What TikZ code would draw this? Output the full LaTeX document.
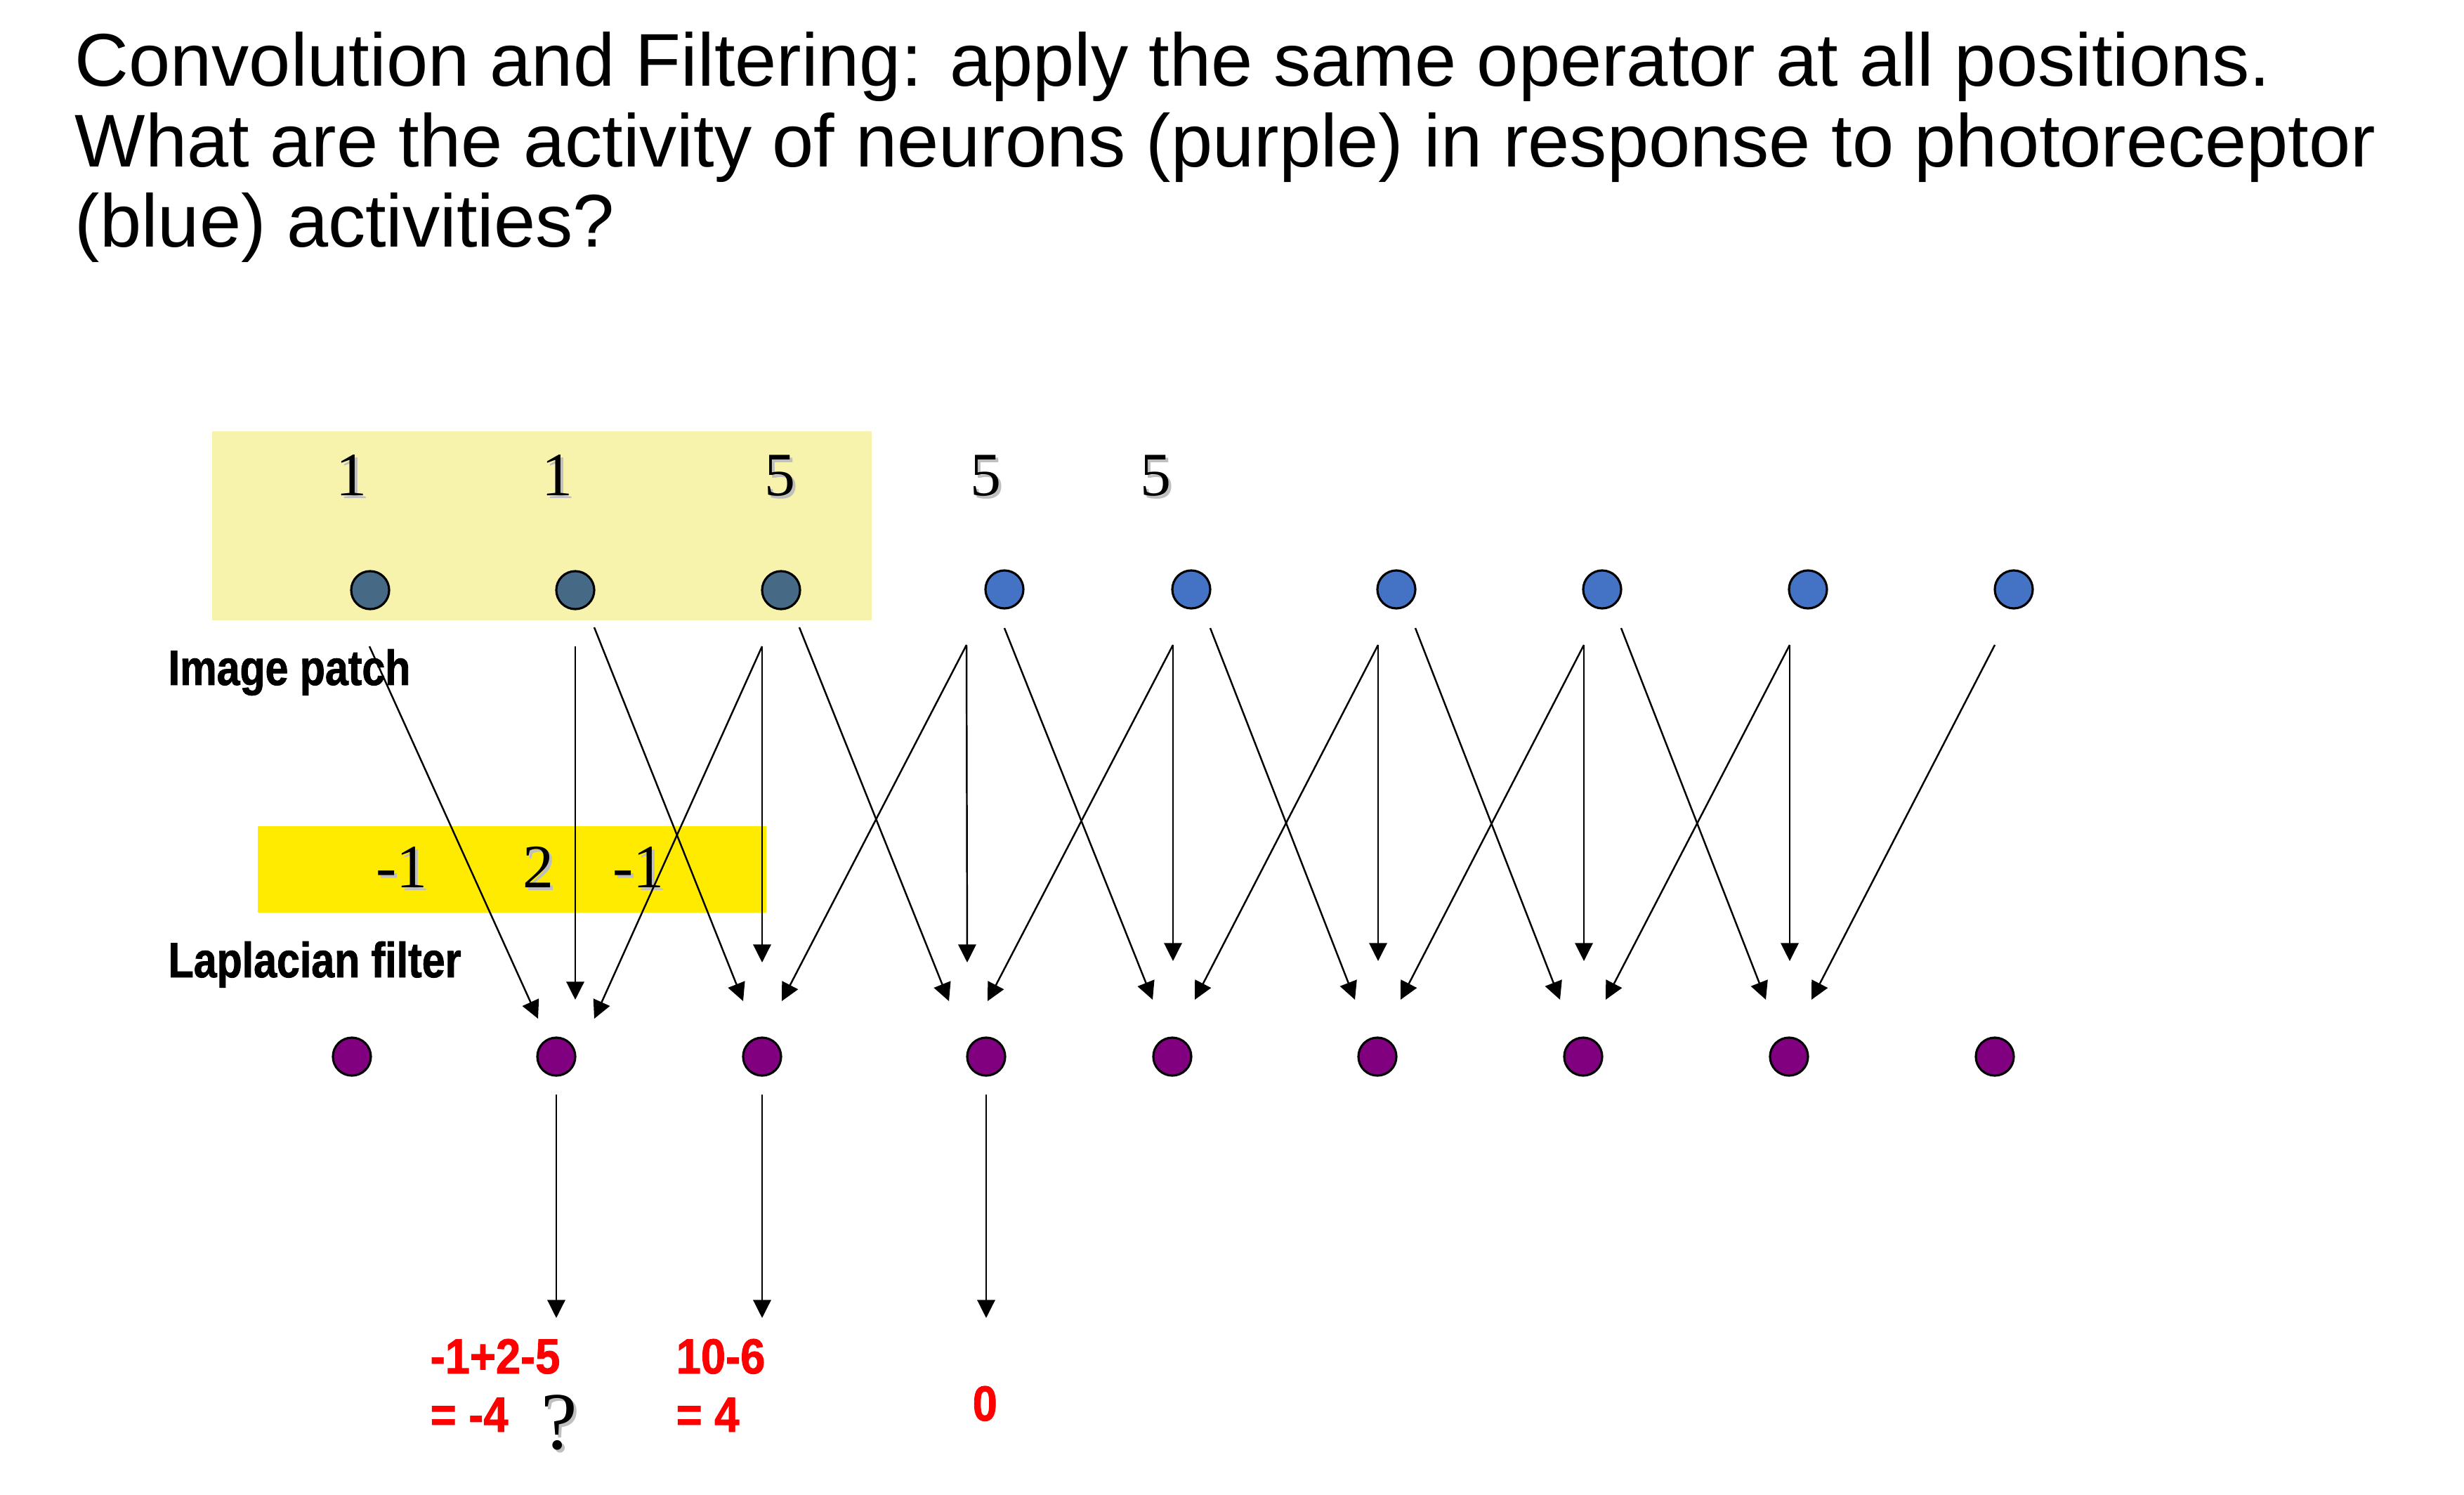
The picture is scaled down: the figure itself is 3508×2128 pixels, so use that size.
\documentclass[tikz,border=0pt]{standalone}
\usepackage{fontspec}
\setmainfont{Liberation Sans}
\newfontfamily\numfont{Liberation Serif}
\newfontfamily\labfont[FakeStretch=0.84,BoldFeatures={FakeBold=1.2}]{Liberation Sans}
\newfontfamily\redfont[FakeStretch=0.9,BoldFeatures={FakeBold=1.2}]{Liberation Sans}
\usetikzlibrary{arrows.meta}
\definecolor{patchyellow}{HTML}{F7F3AD}
\definecolor{filteryellow}{HTML}{FFEB00}
\definecolor{slate}{HTML}{466A85}
\definecolor{photoblue}{HTML}{4472C4}
\definecolor{neuronpurple}{HTML}{800080}
\definecolor{resultred}{HTML}{FF0000}
\begin{document}
\begin{tikzpicture}[x=0.01cm,y=-0.01cm,
  cell/.style={circle,draw=black,line width=0.9pt,minimum size=0.54cm,inner sep=0pt},
  conn/.style={line width=0.7pt,-{Triangle[length=7.3pt,width=7.2pt]}},
  num/.style={font=\numfont\fontsize{25pt}{25pt}\selectfont,anchor=base,inner sep=0pt},
  numshadow/.style={num,text=black!25},
  qmark/.style={font=\numfont\fontsize{33pt}{33pt}\selectfont,anchor=base,inner sep=0pt},
  lab/.style={font=\labfont\bfseries\fontsize{20pt}{20pt}\selectfont,anchor=base west,inner sep=0pt},
  res/.style={font=\redfont\bfseries\fontsize{20pt}{20pt}\selectfont,anchor=base west,inner sep=0pt,text=resultred},
  titletext/.style={font=\fontsize{30.25pt}{32.5pt}\selectfont,anchor=base west,inner sep=0pt}
]
\useasboundingbox[fill=white] (0,0) rectangle (3508,2128);

% title
\node[titletext] (t1line) at (106,123) {Convolution and Filtering: apply the same operator at all positions.};
\node[titletext] (t2line) at (106,238) {What are the activity of neurons (purple) in response to photoreceptor};
\node[titletext] (t3line) at (106,352) {(blue) activities?};

% boxes
\fill[patchyellow] (302,614) rectangle (1241,883);
\fill[filteryellow] (367,1176) rectangle (1091,1299);

% top numbers
\foreach \i/\x/\v in {1/500/1,2/793/1,3/1110/5,4/1403/5,5/1645/5}{
  \node[numshadow] (ns\i) at (\x+4,710) {\v};
  \node[num] (n\i) at (\x,706) {\v};
}
% filter numbers
\node[numshadow] (fs1) at (576,1267) {-1};
\node[num] (f1) at (572,1263) {-1};
\node[numshadow] (fs2) at (770,1267) {2};
\node[num] (f2) at (766,1263) {2};
\node[numshadow] (fs3) at (913,1267) {-1};
\node[num] (f3) at (909,1263) {-1};

% top (photoreceptor) cells
\node[cell,fill=slate] (p1) at (527,840) {};
\node[cell,fill=slate] (p2) at (819,840) {};
\node[cell,fill=slate] (p3) at (1112,840) {};
\foreach \i/\x in {4/1430,5/1696,6/1988,7/2281,8/2574,9/2867}{
  \node[cell,fill=photoblue] (p\i) at (\x,839) {};
}
% bottom (neuron) cells
\foreach \i/\x in {1/501,2/792,3/1085,4/1404,5/1669,6/1961,7/2254,8/2547,9/2840}{
  \node[cell,fill=neuronpurple] (q\i) at (\x,1504) {};
}

% labels
\node[lab] (imgpatch) at (239,975) {Image patch};
\node[lab] (lapfilter) at (239,1391) {Laplacian filter};

% connectors
\foreach \n/\sx/\sy/\ex/\ey in {
  d1/526/920/766/1450, v1/819/920/819/1423, u1/1085/920/846/1450,
  d2/846/893/1058/1425, v2/1085/920/1085/1370, u2/1376/918/1113/1425,
  d3/1138/893/1351/1425, v3/1376/918/1377/1370, u3/1670/918/1406/1425,
  d4/1430/894/1641/1423, v4/1670/918/1670/1368, u4/1962/918/1701/1423,
  d5/1723/894/1929/1423, v5/1962/918/1962/1368, u5/2255/918/1994/1423,
  d6/2015/894/2221/1423, v6/2255/918/2255/1368, u6/2548/918/2286/1423,
  d7/2308/894/2514/1423, v7/2548/918/2548/1368, u7/2840/918/2579/1423}{
  \coordinate (s\n) at (\sx,\sy);
  \coordinate (e\n) at (\ex,\ey);
  \draw[conn] (s\n) -- (e\n);
}

% output arrows
\foreach \i/\x in {2/792,3/1085,4/1404}{
  \coordinate (os\i) at (\x,1558);
  \coordinate (oe\i) at (\x,1876);
  \draw[conn] (os\i) -- (oe\i);
}

% results
\node[res] (r1a) at (612,1955) {-1+2-5};
\node[res] (r1b) at (612,2038) {= -4};
\node[res] (r2a) at (962,1955) {10-6};
\node[res] (r2b) at (962,2038) {= 4};
\node[res] (r3) at (1384,2022) {0};
\node[qmark,text=black!25] (qms) at (800,2066) {?};
\node[qmark] (qm) at (796,2062) {?};
\end{tikzpicture}
\end{document}
